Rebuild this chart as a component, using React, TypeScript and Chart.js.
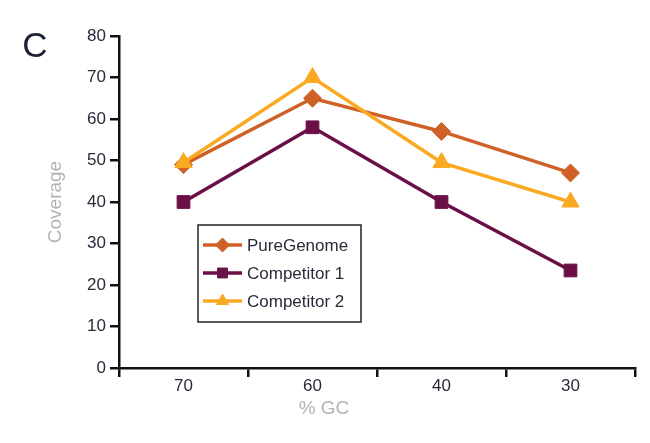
import React, { useEffect, useRef } from "react";
import { Chart, registerables } from "chart.js";
import { drawPoint } from "chart.js/helpers";

Chart.register(...registerables);

const categories = ["70", "60", "40", "30"];
const pureGenome = [49, 65, 57, 47];
const competitor1 = [40, 58, 40, 23.5];
const competitor2 = [49.5, 70, 49.5, 40];
const seriesLabels = ["PureGenome", "Competitor 1", "Competitor 2"];
const xTitle = "% GC";
const yTitle = "Coverage";
const panelLabel = "C";

const COLORS = ["#cf6126", "#6b1047", "#f9aa22"];
const STYLES = ["rectRot", "rect", "triangle"];
const RADII = [9, 9, 10];
const FONT = "'Liberation Sans', Arial, sans-serif";

const overlayPlugin = {
  id: "overlay",
  afterDraw(chart: any) {
    const { ctx, chartArea } = chart;
    ctx.save();
    // panel label
    ctx.fillStyle = "#1d2135";
    ctx.font = `35px 'Liberation Sans Narrow', ${FONT}`;
    ctx.textAlign = "center";
    ctx.textBaseline = "middle";
    ctx.fillText(panelLabel, 35, 47);
    // x title
    ctx.fillStyle = "#b3b3b3";
    ctx.font = `19px ${FONT}`;
    ctx.fillText(xTitle, 324, 409);
    // legend
    const lx = chartArea.left + 79;
    const ly = chartArea.top + 189;
    const lw = 163;
    const lh = 97;
    ctx.fillStyle = "#ffffff";
    ctx.fillRect(lx, ly, lw, lh);
    ctx.strokeStyle = "#222";
    ctx.lineWidth = 1.5;
    ctx.strokeRect(lx, ly, lw, lh);
    chart.data.datasets.forEach((ds: any, i: number) => {
      const cy = ly + 20 + i * 28;
      ctx.strokeStyle = ds.borderColor;
      ctx.lineWidth = 3.5;
      ctx.beginPath();
      ctx.moveTo(lx + 5, cy);
      ctx.lineTo(lx + 44, cy);
      ctx.stroke();
      ctx.fillStyle = ds.pointBackgroundColor;
      ctx.strokeStyle = ds.pointBorderColor;
      ctx.lineWidth = 1;
      drawPoint(ctx, { pointStyle: ds.pointStyle, radius: 7, borderWidth: 1, rotation: 0 }, lx + 24.5, cy);
      ctx.fillStyle = "#2a2a3a";
      ctx.font = `17px ${FONT}`;
      ctx.textAlign = "left";
      ctx.textBaseline = "middle";
      ctx.fillText(ds.label, lx + 49, cy + 1);
    });
    ctx.restore();
  },
};

export default function App() {
  const ref = useRef<HTMLCanvasElement | null>(null);
  useEffect(() => {
    if (!ref.current) return;
    const seriesData = [pureGenome, competitor1, competitor2];
    const orders = [1, 2, 0];
    const chart = new Chart(ref.current, {
      type: "line",
      data: {
        labels: categories,
        datasets: seriesData.map((d, i) => ({
          label: seriesLabels[i],
          data: d,
          borderColor: COLORS[i],
          backgroundColor: COLORS[i],
          pointBackgroundColor: COLORS[i],
          pointBorderColor: COLORS[i],
          pointStyle: STYLES[i],
          pointRadius: RADII[i],
          pointBorderWidth: 1,
          borderWidth: 3.5,
          tension: 0,
          order: orders[i],
        })),
      },
      options: {
        animation: false,
        responsive: false,
        devicePixelRatio: 1,
        layout: { padding: { left: 0, right: 15, top: 36, bottom: 0 } },
        plugins: { legend: { display: false }, tooltip: { enabled: false } },
        scales: {
          x: {
            type: "category",
            offset: true,
            afterFit: (s: any) => {
              s.height = 75;
            },
            grid: {
              offset: true,
              drawOnChartArea: false,
              drawTicks: true,
              tickLength: 9,
              color: "#111",
              lineWidth: 2.5,
            },
            border: { display: true, color: "#111", width: 2.5 },
            ticks: {
              color: "#2a2a3a",
              font: { family: FONT, size: 17 },
              padding: -1,
              maxRotation: 0,
            },
          },
          y: {
            min: 0,
            max: 80,
            afterFit: (s: any) => {
              s.width = 119;
            },
            grid: {
              drawOnChartArea: false,
              drawTicks: true,
              tickLength: 9,
              color: "#111",
              lineWidth: 2.5,
            },
            border: { display: true, color: "#111", width: 2.5 },
            ticks: {
              stepSize: 10,
              color: "#2a2a3a",
              font: { family: FONT, size: 17 },
              padding: 4,
            },
            title: {
              display: true,
              text: yTitle,
              color: "#b3b3b3",
              font: { family: FONT, size: 19 },
              padding: { top: 44, bottom: 0 },
            },
          },
        },
      },
      plugins: [overlayPlugin],
    });
    return () => chart.destroy();
  }, []);
  return (
    <div style={{ position: "fixed", left: 0, top: 0, width: 650, height: 443, background: "#fff" }}>
      <canvas ref={ref} width={650} height={443} style={{ width: 650, height: 443, display: "block" }} />
    </div>
  );
}
